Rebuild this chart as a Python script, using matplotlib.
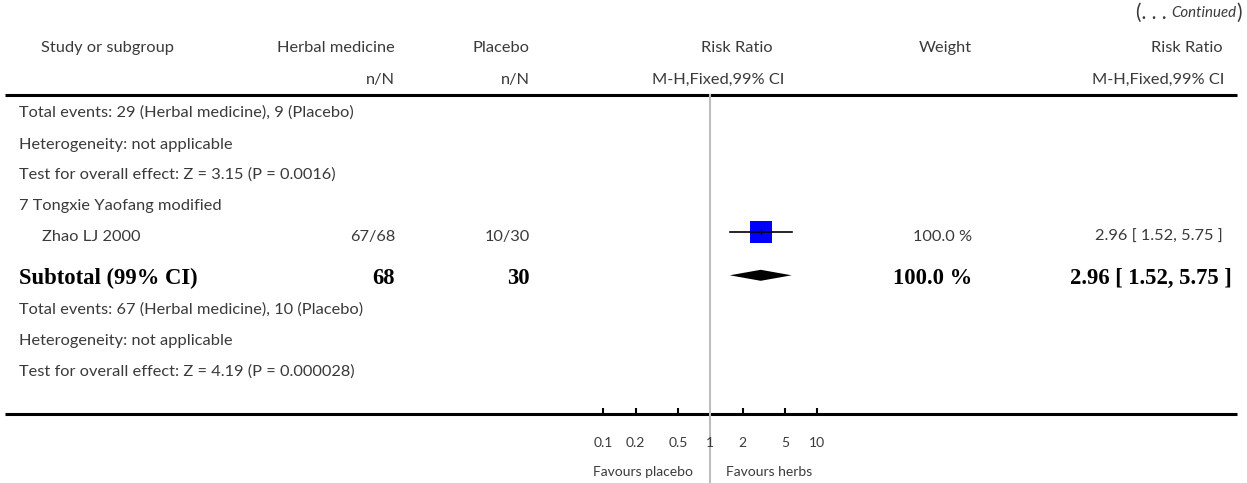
import matplotlib
matplotlib.use("Agg")
import matplotlib.pyplot as plt

# ---- data ----
cont_label = "Continued"
header_left = ["Study or subgroup", "Herbal medicine", "Placebo"]
header_nN = "n/N"
rr_header = ["Risk Ratio", "M-H,Fixed,99% CI"]
weight_header = "Weight"

upper_rows = ["Total events: 29 (Herbal medicine), 9 (Placebo)",
              "Heterogeneity: not applicable",
              "Test for overall effect: Z = 3.15 (P = 0.0016)",
              "7 Tongxie Yaofang modified"]
lower_rows = ["Total events: 67 (Herbal medicine), 10 (Placebo)",
              "Heterogeneity: not applicable",
              "Test for overall effect: Z = 4.19 (P = 0.000028)"]

study_name = "Zhao LJ 2000"
herb_events = [67, 68]
plac_events = [10, 30]
study_rr = [2.96, 1.52, 5.75]
study_weight = 100.0

subtotal_label = "Subtotal (99% CI)"
subtotal_n = [68, 30]
subtotal_rr = [2.96, 1.52, 5.75]
subtotal_weight = 100.0

tick_vals = [0.1, 0.2, 0.5, 1, 2, 5, 10]
tick_text = ["0.1", "0.2", "0.5", "1", "2", "5", "10"]
favours = ["Favours placebo", "Favours herbs"]

# ---- layout (pixels) ----
W, H = 1247, 483
row_y = [113, 145, 175, 206, 237, 278, 310, 341, 372]
FONT = "Lato"
SERIF = "Liberation Serif"
TXT = "#3a3a3a"
fs = 11.8
fs_bold = 16.3
fs_small = 10

fig = plt.figure(figsize=(W / 100, H / 100), dpi=100)
bg = fig.add_axes([0, 0, 1, 1])
bg.set_xlim(0, W)
bg.set_ylim(H, 0)
bg.axis("off")


def txt(x, y, s, ha="left", bold=False, size=None, **kw):
    if bold:
        return bg.text(x, y, s, ha=ha, va="center", family=SERIF, weight="bold",
                       size=size or fs_bold, color="black", **kw)
    return bg.text(x, y, s, ha=ha, va="center", family=FONT,
                   size=size or fs, color=TXT, **kw)


# continued marker, built right to left
fig.canvas.draw()
rend = fig.canvas.get_renderer()
inv = bg.transData.inverted()
x_right = 1242
for piece, style in [(")", "normal"), (cont_label, "italic"), ("(. . . ", "normal")]:
    t = bg.text(x_right, 13, piece, ha="right", va="center", family=FONT,
                style=style, size=fs - 1 if style == "italic" else fs + 3, color=TXT)
    bb = t.get_window_extent(rend)
    x_right = inv.transform((bb.x0, bb.y0))[0]

# headers
txt(41, 48, header_left[0])
txt(395, 48, header_left[1], ha="right")
txt(530, 48, header_left[2], ha="right")
txt(395, 80, header_nN, ha="right")
txt(530, 80, header_nN, ha="right")
txt(773, 48, rr_header[0], ha="right")
txt(784, 80, rr_header[1], ha="right")
txt(972, 48, weight_header, ha="right")
txt(1223, 48, rr_header[0], ha="right")
txt(1224, 80, rr_header[1], ha="right")

# horizontal rules
bg.plot([5, 1237], [94.5, 94.5], color="black", lw=2.2, solid_capstyle="butt")
bg.plot([5, 1237], [413.5, 413.5], color="black", lw=2.2, solid_capstyle="butt")

# row text
for y, s in zip(row_y[:4], upper_rows):
    txt(19, y, s)
txt(42, row_y[4], study_name)
txt(395, row_y[4], f"{herb_events[0]}/{herb_events[1]}", ha="right")
txt(530, row_y[4], f"{plac_events[0]}/{plac_events[1]}", ha="right")
txt(972, row_y[4], f"{study_weight:.1f} %", ha="right")
txt(1223, row_y[4], f"{study_rr[0]:.2f} [ {study_rr[1]:.2f}, {study_rr[2]:.2f} ]", ha="right")

txt(19, row_y[5], subtotal_label, bold=True)
txt(395, row_y[5], str(subtotal_n[0]), ha="right", bold=True)
txt(530, row_y[5], str(subtotal_n[1]), ha="right", bold=True)
txt(972, row_y[5], f"{subtotal_weight:.1f} %", ha="right", bold=True)
txt(1232, row_y[5], f"{subtotal_rr[0]:.2f} [ {subtotal_rr[1]:.2f}, {subtotal_rr[2]:.2f} ]",
    ha="right", bold=True)

for y, s in zip(row_y[6:], lower_rows):
    txt(19, y, s)

# ---- forest panel on a log scale ----
x0, x1 = 603.3, 817.3
y_top, y_bot = 94.5, 413.5
fa = fig.add_axes([x0 / W, 1 - y_bot / H, (x1 - x0) / W, (y_bot - y_top) / H])
fa.set_xscale("log")
fa.set_xlim(0.1, 10)
fa.set_ylim(y_bot, y_top)
fa.patch.set_alpha(0)
for sp in fa.spines.values():
    sp.set_visible(False)
fa.set_yticks([])
fa.set_xticks(tick_vals)
fa.set_xticklabels(tick_text, family=FONT, size=fs_small, color=TXT)
fa.minorticks_off()
fa.tick_params(axis="x", direction="in", length=4, width=1.5, color="black", pad=17)
fa.xaxis.get_major_ticks()[3].tick1line.set_visible(False)

# null line running down through the labels
below = (H - y_bot) / (y_bot - y_top)
fa.axvline(1, ymin=-below, ymax=1, color="#bdbdbd", lw=1.5, clip_on=False, zorder=1)

# study: CI line and weighted square
sy = 232
fa.plot([study_rr[1], study_rr[2]], [sy, sy], color="black", lw=1.2, zorder=3)
sq_half = 11
fa.scatter([study_rr[0]], [sy], marker="s", s=(2 * sq_half * 0.72) ** 2,
           color="#0000ff", zorder=2, linewidths=0)
fa.plot([study_rr[0], study_rr[0]], [sy - 2, sy + 2], color="black", lw=1, zorder=4)

# subtotal diamond
dy = 275.3
fa.fill([subtotal_rr[1], subtotal_rr[0], subtotal_rr[2], subtotal_rr[0]],
        [dy, dy - 5.5, dy, dy + 5.5], color="black", lw=0, clip_on=False, zorder=3)

txt(693, 472, favours[0], ha="right", size=fs_small)
txt(726, 472, favours[1], size=fs_small)

fig.savefig("out.png", dpi=100)
